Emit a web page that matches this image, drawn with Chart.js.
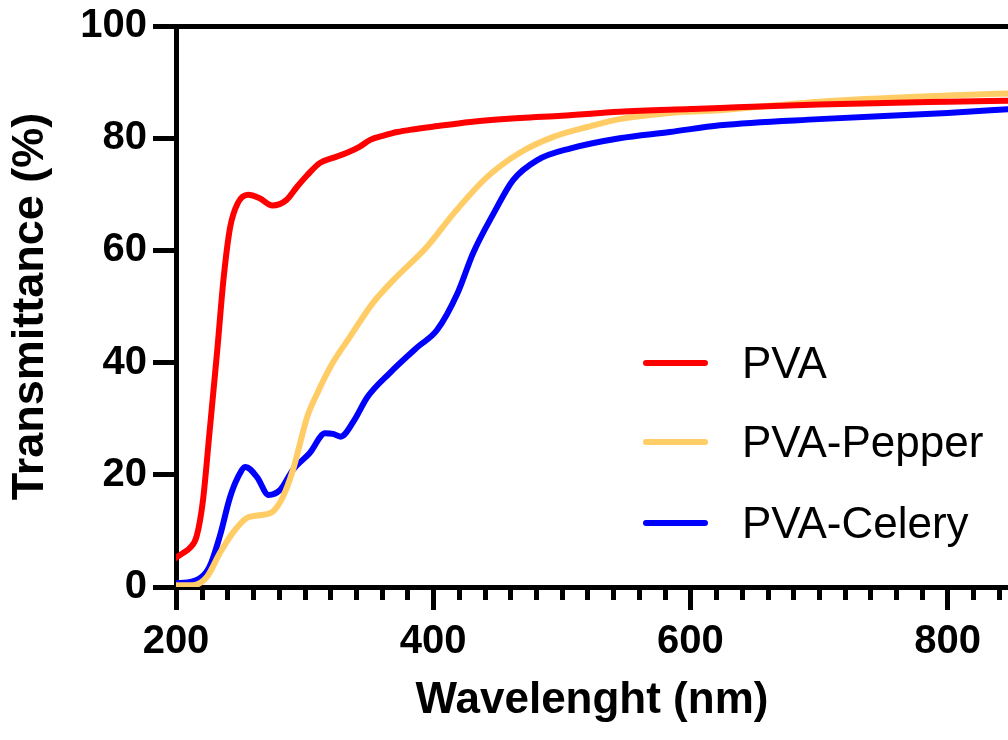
<!DOCTYPE html>
<html>
<head>
<meta charset="utf-8">
<script src="https://cdn.jsdelivr.net/npm/chart.js@4"></script>
<style>
  html, body { margin: 0; padding: 0; background: #fff; overflow: hidden; }
  #wrap { position: relative; width: 1008px; height: 740px; }
  #legend { position: absolute; left: 643px; top: 0; font-family: "Liberation Sans", Arial, sans-serif; }
  .row { position: absolute; left: 0; height: 80px; display: flex; align-items: center; white-space: nowrap; }
  .sw { display: inline-block; width: 65px; height: 6px; border-radius: 3px; margin-right: 34px; }
  .lb { font-size: 44px; line-height: 80px; color: #000; }
</style>
</head>
<body>
<div id="wrap">
  <canvas id="c" width="1008" height="740"></canvas>
  <div id="legend"></div>
</div>
<script>
// ---- data ----
const seriesLabels = ["PVA", "PVA-Pepper", "PVA-Celery"];
const seriesColors = ["#FF0000", "#FFCC66", "#0000FF"];

const pvaWavelength = [200,205,211,216,221,226,232,237,242,248,256,265,275,286,294,302,312,322,333,343,351,362,372,385,398,429,468,500,545,600,623,700,800,850];
const pvaT          = [5.2,6,7,9,15.5,27.4,42,55,64,68.4,69.9,69.3,68,69,71.3,73.4,75.6,76.5,77.4,78.5,79.7,80.5,81.1,81.6,82,82.9,83.6,84,84.7,85.2,85.4,86,86.5,86.7];

const pepperWavelength = [200,213,224,234,244,255,265,275,283,291,296,302,310,322,335,353,369,395,416,442,468,493,520,545,584,623,700,800,850];
const pepperT          = [0.3,0.3,1.8,6,9.6,12.3,12.8,13.4,16,20.9,25.2,30.3,34.6,40,44.5,50.6,54.7,60.6,66.6,73.1,77.5,80.2,82,83.4,84.5,85,86.5,87.6,88];

const celeryWavelength = [200,213,226,234,242,248,254,263,272,281,291,304,316,322,328,338,349,366,388,403,419,431,447,462,481,507,545,584,623,700,800,850];
const celeryT          = [0.7,1,3.6,9,16,19.5,21.4,19.6,16.4,17.3,20.9,23.9,27.4,27.3,26.8,29.5,33.9,38.1,42.8,45.8,52.4,59.5,66.6,72.5,76.1,78.2,80,81.1,82.3,83.4,84.5,85.2];

const xTickLabels = [200, 400, 600, 800];
const xMinorStep = 20;
const yTickLabels = [0, 20, 40, 60, 80, 100];
const xTitle = "Wavelenght (nm)";
const yTitle = "Transmittance (%)";

// ---- chart ----
const FONT = '"Liberation Sans", Arial, sans-serif';
function pts(xs, ys) { return xs.map((x, i) => ({ x: x, y: ys[i] })); }

const seriesData = [pts(pvaWavelength, pvaT), pts(pepperWavelength, pepperT), pts(celeryWavelength, celeryT)];

const extras = {
  id: 'extras',
  afterDatasetsDraw(chart) {
    const ctx = chart.ctx, xs = chart.scales.x, ys = chart.scales.y, ca = chart.chartArea;
    ctx.save();
    ctx.strokeStyle = '#000';
    ctx.lineWidth = 5;
    ctx.lineCap = 'butt';
    // minor x ticks
    for (let v = xs.min + xMinorStep; v <= xs.max; v += xMinorStep) {
      if (xTickLabels.includes(v)) continue;
      const px = Math.round(xs.getPixelForValue(v)) + 0.5;
      ctx.beginPath();
      ctx.moveTo(px, ca.bottom);
      ctx.lineTo(px, ca.bottom + 13);
      ctx.stroke();
    }
    // top frame line at y = 100
    const py = Math.round(ys.getPixelForValue(100)) + 0.5;
    ctx.beginPath();
    ctx.moveTo(ca.left - 23, py);
    ctx.lineTo(chart.width, py);
    ctx.stroke();
    ctx.restore();
  }
};

const chart = new Chart(document.getElementById('c'), {
  type: 'line',
  data: {
    datasets: seriesLabels.map((lab, i) => ({
      label: lab,
      data: seriesData[i],
      borderColor: seriesColors[i],
      backgroundColor: seriesColors[i],
      borderWidth: 6,
      pointRadius: 0,
      fill: false,
      cubicInterpolationMode: 'monotone',
      borderCapStyle: 'round',
      borderJoinStyle: 'round'
    }))
  },
  options: {
    responsive: false,
    animation: false,
    devicePixelRatio: 1,
    layout: { padding: { top: 26, right: 0, left: 0, bottom: 0 } },
    plugins: { legend: { display: false }, tooltip: { enabled: false } },
    scales: {
      x: {
        type: 'linear',
        min: 200,
        max: 847,
        afterBuildTicks: s => { s.ticks = xTickLabels.map(v => ({ value: v })); },
        afterFit: s => { s.height = 153; },
        ticks: { color: '#000', font: { family: FONT, size: 40, weight: 'bold' }, padding: 8, maxRotation: 0 },
        grid: { drawOnChartArea: false, drawTicks: true, tickLength: 23, tickWidth: 5, tickColor: '#000' },
        border: { display: true, width: 5, color: '#000' },
        title: { display: true, text: xTitle, color: '#000', font: { family: FONT, size: 44, weight: 'bold' }, padding: { top: 0, bottom: 13 } }
      },
      y: {
        type: 'linear',
        min: 0,
        max: 100,
        afterBuildTicks: s => { s.ticks = yTickLabels.map(v => ({ value: v })); },
        afterFit: s => { s.width = 176; },
        ticks: { color: '#000', font: { family: FONT, size: 40, weight: 'bold', lineHeight: 1.0 }, padding: 6 },
        grid: { drawOnChartArea: false, drawTicks: true, tickLength: 23, tickWidth: 5, tickColor: '#000' },
        border: { display: true, width: 5, color: '#000' },
        title: { display: true, text: yTitle, color: '#000', font: { family: FONT, size: 45, weight: 'bold' }, padding: { top: 4, bottom: 0 } }
      }
    }
  },
  plugins: [extras]
});

// ---- HTML legend ----
const legendCenters = [363, 442, 523];
const leg = document.getElementById('legend');
seriesLabels.forEach((lab, i) => {
  const row = document.createElement('div');
  row.className = 'row';
  row.style.top = (legendCenters[i] - 40) + 'px';
  const sw = document.createElement('span');
  sw.className = 'sw';
  sw.style.background = seriesColors[i];
  const t = document.createElement('span');
  t.className = 'lb';
  t.textContent = lab;
  row.appendChild(sw); row.appendChild(t);
  leg.appendChild(row);
});
</script>
</body>
</html>
